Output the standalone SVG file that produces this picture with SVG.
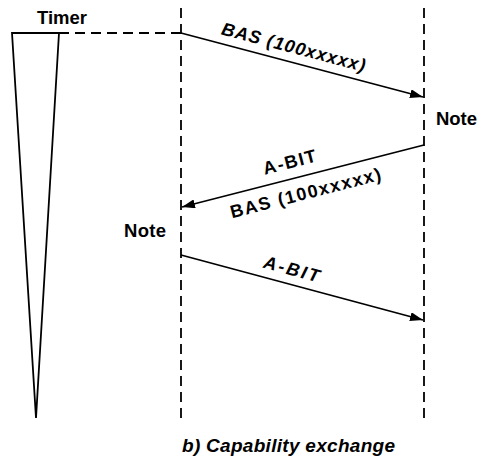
<svg xmlns="http://www.w3.org/2000/svg" width="482" height="461" viewBox="0 0 482 461">
  <style>
    .lifeline { stroke: #000; stroke-width: 1.8; stroke-dasharray: 10 6; fill: none; }
    .msg { stroke: #000; stroke-width: 1.8; fill: none; }
    .timer { stroke: #000; stroke-width: 1.8; fill: none; stroke-linejoin: miter; }
    text { font-family: "Liberation Sans", Arial, sans-serif; font-weight: bold; fill: #000; }
    .lbl { font-size: 18px; text-anchor: middle; }
    .it { font-style: italic; }
    .note { font-size: 18.5px; }
    .cap { font-size: 19px; font-style: italic; }
  </style>
  <defs>
    <marker id="arrow" viewBox="0 0 13 9" refX="13" refY="4.5" markerWidth="13" markerHeight="9" markerUnits="userSpaceOnUse" orient="auto">
      <path d="M0,0 L13,4.5 L0,9 Z" fill="#000"/>
    </marker>
  </defs>

  <!-- timer symbol -->
  <g id="timer">
    <path class="timer" d="M12,33 L59,33 L36,418 Z"/>
    <line class="lifeline" x1="59" y1="33" x2="181" y2="33"/>
    <text x="62" y="24" class="note" text-anchor="middle" textLength="50">Timer</text>
  </g>

  <!-- lifelines -->
  <g id="lifelines">
    <line class="lifeline" x1="181" y1="8" x2="181" y2="418"/>
    <line class="lifeline" x1="424" y1="8" x2="424" y2="418"/>
  </g>

  <!-- messages -->
  <g id="connectors">
    <line class="msg" x1="181" y1="33" x2="423" y2="97" marker-end="url(#arrow)"/>
    <line class="msg" x1="424" y1="145" x2="182" y2="207" marker-end="url(#arrow)"/>
    <line class="msg" x1="181" y1="255" x2="423" y2="320" marker-end="url(#arrow)"/>
  </g>

  <g id="labels">
    <text class="lbl it" transform="translate(292,53) rotate(14.75)" textLength="148">BAS (100xxxxx)</text>
    <text class="lbl" transform="translate(291,168) rotate(-14.4)" textLength="54">A-BIT</text>
    <text class="lbl" transform="translate(307,199) rotate(-14.4)" textLength="155">BAS (100xxxxx)</text>
    <text class="lbl it" transform="translate(290,275) rotate(15)" textLength="57">A-BIT</text>
  </g>

  <g id="notes">
    <text class="note" x="436" y="125" textLength="41">Note</text>
    <text class="note" x="124" y="237" textLength="42">Note</text>
  </g>

  <text class="cap" x="182" y="452" textLength="213">b) Capability exchange</text>
</svg>
